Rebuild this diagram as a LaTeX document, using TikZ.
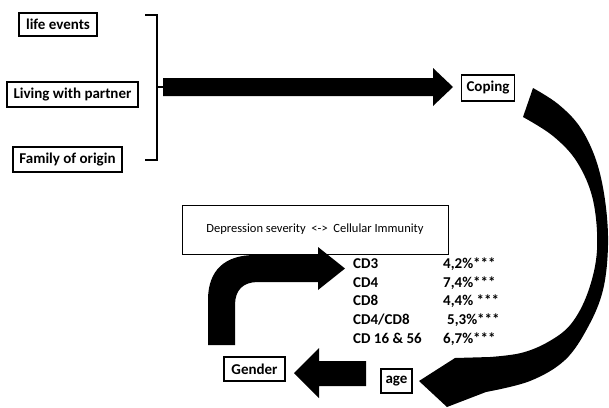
\documentclass[tikz,border=0pt]{standalone}
\usepackage{fontspec}
\setmainfont{Carlito}
\usepackage{tikz}
\usetikzlibrary{arrows.meta,positioning,calc}

\begin{document}
\begin{tikzpicture}[x=1pt, y=-1pt, >=Latex]
\tikzset{lblbox/.style={draw, line width=1.3pt, inner sep=0pt, align=center, font=\bfseries\fontsize{15}{17}\selectfont},
 depbox/.style={draw, line width=.8pt, inner sep=0pt, font=\fontsize{12.5}{15}\selectfont},
 cdtext/.style={anchor=base west, inner sep=0pt, font=\bfseries\fontsize{15}{17}\selectfont},
 bigarrow/.style={fill=black, draw=none},
 bracket/.style={line width=1.4pt}}
\useasboundingbox (0,0) rectangle (609,407);
% factor boxes on the left
\node[lblbox, minimum width=78, minimum height=23] (life) at (58,24.5) {life events};
\node[lblbox, minimum width=131, minimum height=25] (partner) at (72.5,94.5) {Living with partner};
\node[lblbox, minimum width=109, minimum height=25] (origin) at (67.5,159.5) {Family of origin};
\node[lblbox, minimum width=53, minimum height=26] (coping) at (488,88) {Coping};
\node[lblbox, minimum width=61, minimum height=24] (gender) at (254.5,369) {Gender};
\node[lblbox, minimum width=31, minimum height=24] (age) at (396.5,381) {age};
\node[depbox, minimum width=266, minimum height=49] (dep) at (315,229.5) {Depression severity\ \ <->\ \ Cellular Immunity};
% immunity results
\node[cdtext] (cd3) at (353,268) {CD3};
\node[cdtext] (cd4) at (353,287) {CD4};
\node[cdtext] (cd8) at (353,305) {CD8};
\node[cdtext] (cd48) at (353,324) {CD4/CD8};
\node[cdtext] (cd16) at (353,343) {CD 16 \& 56};
\node[cdtext] (cd3v) at (443,268) {4,2\%***};
\node[cdtext] (cd4v) at (443,287) {7,4\%***};
\node[cdtext] (cd8v) at (443,305) {4,4\% ***};
\node[cdtext] (cd48v) at (447,324) {5,3\%***};
\node[cdtext] (cd16v) at (443,343) {6,7\%***};
% bracket
\coordinate (brtop) at (157,15);
\coordinate (brbot) at (157,160);
\coordinate (brmid) at (157,87);
\draw[bracket] ($(brtop)+(-12,0)$) -- (brtop) -- (brbot) -- ($(brbot)+(-12,0)$);
\draw[bracket] (brmid) -- ++(6,0);
% block arrows
\fill[bigarrow] ($(brmid)+(6,-9)$) -- (433,78) -- (433,68) -- (453,87) -- (433,106) -- (433,96) -- ($(brmid)+(6,9)$) -- cycle;
\fill[bigarrow] (533,88)
  plot[smooth, tension=.6] coordinates {(533,88) (558,104) (580,127) (596,160) (605,200) (608,245) (603,290) (588,327) (565,360) (530,381) (486,392)}
  -- (447,407) -- (419,381) -- (455,358)
  -- plot[smooth, tension=.6] coordinates {(490,357) (521,353) (548,342) (571,324) (588,292) (597,250) (593,200) (577,162) (553,136) (523,117)}
  -- cycle;
\fill[bigarrow] (208,345) -- (208,300) .. controls (208,270) and (225,255) .. (255,255) -- (318,255) -- (318,247)
  -- (345,268.5) -- (318,290) -- (318,282) -- (258,282) .. controls (243,282) and (235,290) .. (235,305) -- (235,345) -- cycle;
\fill[bigarrow] (366,361) -- (319,361) -- (319,348) -- (294,373) -- (319,398) -- (319,386) -- (366,386) -- cycle;
\end{tikzpicture}
\end{document}
